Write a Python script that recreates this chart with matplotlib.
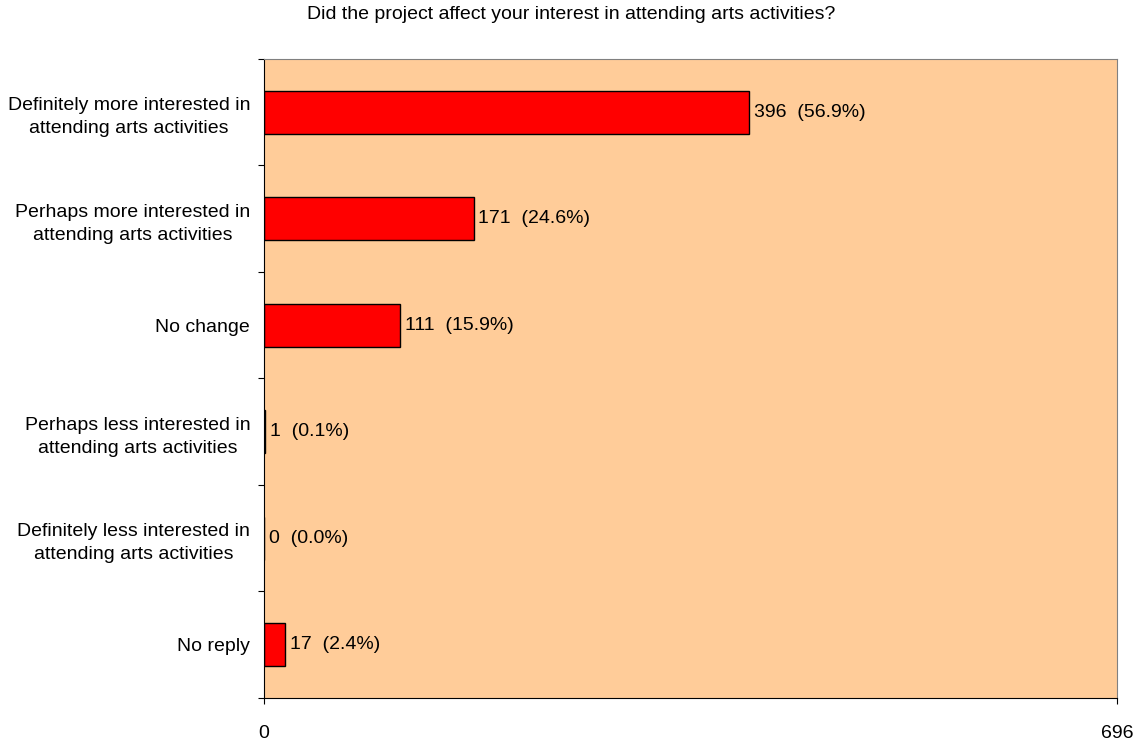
import matplotlib.pyplot as plt
import numpy as np

plt.rcParams['font.family'] = ['Liberation Sans', 'DejaVu Sans']

title = "Did the project affect your interest in attending arts activities?"
categories = [
    "Definitely more interested in\nattending arts activities",
    "Perhaps more interested in\nattending arts activities",
    "No change",
    "Perhaps less interested in\nattending arts activities",
    "Definitely less interested in\nattending arts activities",
    "No reply",
]
counts = [396, 171, 111, 1, 0, 17]
percents = [56.9, 24.6, 15.9, 0.1, 0.0, 2.4]
total = 696

fig = plt.figure(figsize=(11.42, 7.42), dpi=100)
ax = fig.add_axes([0.2312, 0.0593, 0.7470, 0.8612])
ax.set_facecolor('#FFCC99')

y = np.arange(len(categories))
ax.barh(y, counts, height=0.4, color='#FF0000', edgecolor='black', linewidth=1)

for yi, c, p in zip(y, counts, percents):
    ax.annotate(f"{c}  ({p:.1f}%)", xy=(c, yi), xytext=(3.5, 0),
                textcoords='offset points', va='center', ha='left', fontsize=14)

ax.set_xlim(0, total)
ax.set_ylim(len(categories) - 0.5, -0.5)

# boundaries get the tick marks, category names sit on minor ticks between them
ax.set_yticks(np.arange(len(categories) + 1) - 0.5)
ax.set_yticklabels([])
ax.set_yticks(y, minor=True)
ax.set_yticklabels(categories, minor=True, fontsize=14, multialignment='center',
                   linespacing=1.45)
ax.tick_params(axis='y', which='minor', length=0, pad=10)
ax.tick_params(axis='y', which='major', length=4.5, direction='out')

ax.set_xticks([0, total])
ax.set_xticklabels(['0', str(total)], fontsize=14)
ax.tick_params(axis='x', length=4.5, direction='out', pad=15)

for side in ['top', 'right']:
    ax.spines[side].set_color('#808080')
for side in ['left', 'bottom']:
    ax.spines[side].set_color('black')

fig.text(0.5, 0.980, title, ha='center', va='center', fontsize=14)

fig.savefig('out.png', dpi=100)
